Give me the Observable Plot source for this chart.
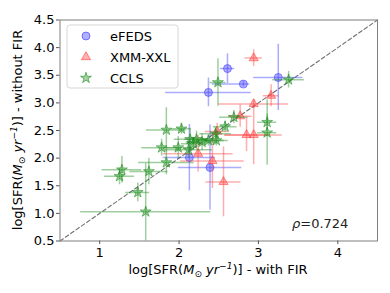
<!DOCTYPE html>
<html><head><meta charset="utf-8">
<script src="https://cdn.jsdelivr.net/npm/d3@7"></script>
<script src="https://cdn.jsdelivr.net/npm/@observablehq/plot@0.6"></script>
<style>
html,body{margin:0;padding:0;background:white;}
#chart{width:390px;height:293px;}
</style>
</head><body><div id="chart"></div>
<script>
// axis settings
const xDomain = [0.5, 4.5];
const yDomain = [0.5, 4.5];
const xTicks = [1, 2, 3, 4];
const yTicks = [0.5, 1.0, 1.5, 2.0, 2.5, 3.0, 3.5, 4.0, 4.5];
const rho = "0.724";

// eFEDS
const efedsX = [2.61, 2.81, 2.37, 3.25, 2.13, 2.39];
const efedsY = [3.62, 3.34, 3.19, 3.46, 2.01, 1.83];
const efedsXlo = [0.09, 0.39, 0.54, 0.31, 0.33, 0.40];
const efedsXhi = [0.09, 0.08, 0.54, 0.31, 0.33, 0.40];
const efedsYerr = [0.27, 0.05, 0.26, 0.60, 0.60, 0.77];

// XMM-XXL
const xmmX = [2.94, 3.16, 2.94, 2.77, 2.85, 2.94, 2.24, 2.42, 2.56, 2.48];
const xmmY = [3.81, 3.13, 2.98, 2.76, 2.42, 2.42, 2.08, 1.95, 1.57, 2.48];
const xmmXerr = [0.11, 0.10, 0.44, 0.15, 0.28, 0.36, 0.44, 0.40, 0.22, 0.15];
const xmmYerr = [0.15, 0.20, 0.08, 0.20, 0.30, 0.54, 0.33, 0.50, 0.63, 0.15];

// CCLS
const cclsX = [1.28, 1.25, 1.62, 1.48, 1.58, 1.78, 1.84, 1.84, 2.03, 1.99, 2.14, 2.12, 2.22, 2.29, 2.37, 2.47, 2.46, 2.58, 2.69, 3.11, 3.11, 2.49, 3.38, 2.18];
const cclsY = [1.79, 1.67, 1.76, 1.38, 1.03, 2.19, 1.92, 2.51, 2.53, 2.19, 2.34, 2.15, 2.34, 2.29, 2.32, 2.32, 2.44, 2.57, 2.74, 2.65, 2.46, 3.37, 3.42, 2.26];
const cclsXerr = [0.25, 0.19, 0.24, 0.15, 0.82, 0.25, 0.35, 0.25, 0.12, 0.18, 0.20, 0.30, 0.15, 0.20, 0.20, 0.15, 0.20, 0.15, 0.18, 0.12, 0.12, 0.10, 0.20, 0.15];
const cclsYerr = [0.24, 0.15, 0.24, 0.17, 0.87, 0.15, 0.22, 0.40, 0.10, 0.20, 0.20, 0.15, 0.15, 0.15, 0.10, 0.10, 0.12, 0.10, 0.12, 0.15, 0.59, 0.43, 0.15, 0.12];

const seriesNames = ["eFEDS", "XMM-XXL", "CCLS"];
const seriesColors = ["#3a3aff", "#ff3d3d", "#1a8c1a"];
const seriesSymbols = ["circle", "triangle", "star"];

function build(xs, ys, xlo, xhi, ylo, yhi) {
  return xs.map((x, i) => ({x, y: ys[i], x1: x - xlo[i], x2: x + xhi[i], y1: ys[i] - ylo[i], y2: ys[i] + yhi[i]}));
}
const sets = [
  build(efedsX, efedsY, efedsXlo, efedsXhi, efedsYerr, efedsYerr),
  build(xmmX, xmmY, xmmXerr, xmmXerr, xmmYerr, xmmYerr),
  build(cclsX, cclsY, cclsXerr, cclsXerr, cclsYerr, cclsYerr)
];
const symbolR = [4, 3.4, 3.4];

const marks = [Plot.line(xDomain.map(v => ({x: v, y: v})), {x: "x", y: "y", stroke: "#707070", strokeWidth: 1.1, strokeDasharray: "4,2.5"})];
sets.forEach((data, k) => {
  const c = seriesColors[k];
  marks.push(Plot.ruleY(data, {y: "y", x1: "x1", x2: "x2", stroke: c, strokeOpacity: 0.42, strokeWidth: 1.5, clip: true}));
  marks.push(Plot.ruleX(data, {x: "x", y1: "y1", y2: "y2", stroke: c, strokeOpacity: 0.42, strokeWidth: 1.5, clip: true}));
  marks.push(Plot.dot(data, {x: "x", y: "y", symbol: () => seriesSymbols[k], r: symbolR[k], fill: c, fillOpacity: 0.4, stroke: c, strokeOpacity: 0.55, strokeWidth: 1, clip: true}));
});
marks.push(Plot.frame({stroke: "#7f7f7f", strokeWidth: 1}));
marks.push(Plot.axisX({ticks: xTicks, tickSize: 3.5, tickPadding: 3, tickFormat: d3.format("d"), label: null, stroke: "#555"}));
marks.push(Plot.axisY({ticks: yTicks, tickSize: 3.5, tickPadding: 2, tickFormat: d3.format(".1f"), label: null, stroke: "#555"}));

const chart = Plot.plot({
  width: 390, height: 293,
  marginLeft: 59.5, marginRight: 13, marginTop: 19.5, marginBottom: 52.5,
  x: {domain: xDomain},
  y: {domain: yDomain},
  symbol: {type: "identity"},
  style: {fontFamily: "DejaVu Sans", fontSize: "13px", color: "black", background: "white"},
  marks
});
document.getElementById("chart").appendChild(chart);

const svg = d3.select(chart);
// axis labels with math-like formatting
function addLabel(g, prefix) {
  const t = g.append("text").attr("font-family", "DejaVu Sans").attr("font-size", 13).attr("fill", "black").attr("text-anchor", "middle");
  t.append("tspan").text("log[SFR(");
  t.append("tspan").attr("font-style", "italic").text("M");
  t.append("tspan").attr("font-size", 9).attr("dy", 3).text("\u2299");
  t.append("tspan").attr("font-style", "italic").attr("dy", -3).text(" yr");
  t.append("tspan").attr("font-style", "italic").attr("font-size", 9).attr("dy", -5).text("\u22121");
  t.append("tspan").attr("dy", 5).text(")] - " + prefix);
  return t;
}
addLabel(svg.append("g").attr("transform", "translate(218,274)"), "with FIR");
addLabel(svg.append("g").attr("transform", "translate(22,130) rotate(-90)"), "without FIR");

// rho annotation
const rt = svg.append("text").attr("x", 292).attr("y", 228).attr("text-anchor", "start").attr("font-family", "DejaVu Sans").attr("font-size", 13).attr("fill", "#222");
rt.append("tspan").attr("font-style", "italic").text("\u03c1");
rt.append("tspan").text("=" + rho);

// legend
const lg = svg.append("g");
lg.append("rect").attr("x", 67).attr("y", 25).attr("width", 111).attr("height", 63).attr("rx", 3).attr("fill", "white").attr("fill-opacity", 0.8).attr("stroke", "#d6d6d6");
const symTypes = {circle: d3.symbolCircle, triangle: d3.symbolTriangle, star: d3.symbolStar};
seriesNames.forEach((name, k) => {
  const yy = 36 + k * 21;
  const r = symbolR[k];
  lg.append("path").attr("transform", `translate(86,${yy})`)
    .attr("d", d3.symbol(symTypes[seriesSymbols[k]], Math.PI * r * r)())
    .attr("fill", seriesColors[k]).attr("fill-opacity", 0.4).attr("stroke", seriesColors[k]).attr("stroke-opacity", 0.6);
  lg.append("text").attr("x", 110).attr("y", yy + 5).attr("text-anchor", "start").attr("font-family", "DejaVu Sans").attr("font-size", 13).attr("fill", "black").text(name);
});
</script></body></html>
